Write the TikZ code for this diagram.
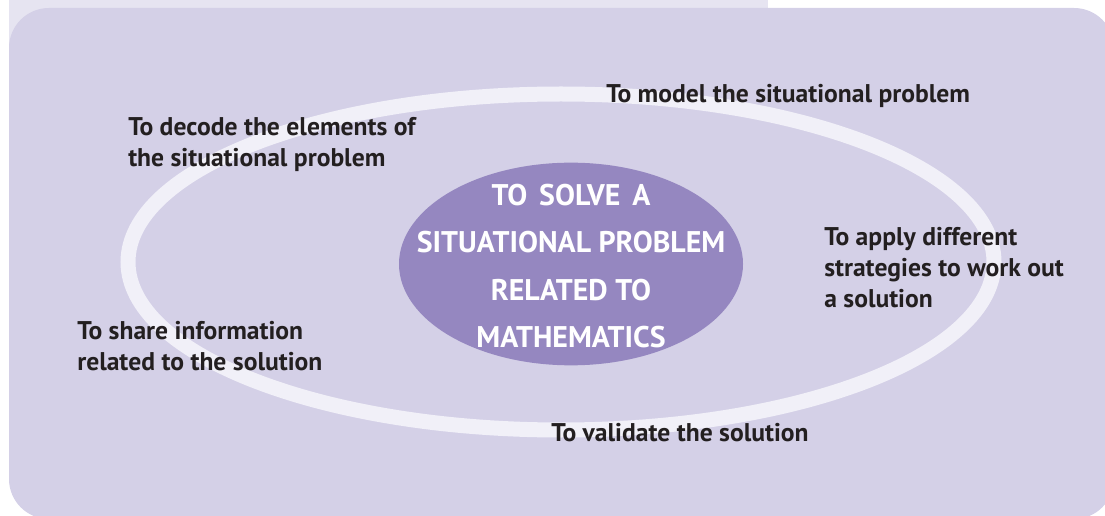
\documentclass[tikz,border=0pt]{standalone}
\usepackage{fontspec}
\setmainfont{PT Sans}
\usetikzlibrary{shapes.geometric, positioning}

\definecolor{panelbg}{HTML}{D4D0E7}
\definecolor{tabbg}{HTML}{E6E4F1}
\definecolor{ringline}{HTML}{F1F0F8}
\definecolor{goalfill}{HTML}{9587C0}
\definecolor{labeltext}{HTML}{231F20}

\newcommand{\widewords}{\spaceskip=0.4em\relax}

\begin{document}
\begin{tikzpicture}[
    x=0.75pt, y=-0.75pt,
    goal/.style={ellipse, fill=goalfill, minimum width=258pt, minimum height=152pt, inner sep=0pt},
    goaltext/.style={text=white, inner sep=0pt, align=center, font=\bfseries\fontsize{22.4}{35.5}\selectfont},
    stage/.style={anchor=base west, inner sep=0pt, align=left, text=labeltext,
        font=\bfseries\fontsize{19.2}{23.25}\selectfont}
]
    \useasboundingbox (0,0) rectangle (1105,516);

    % Background panel
    \fill[tabbg] (9,0) rectangle (768,60);
    \fill[panelbg, rounded corners=30pt] (9,8) rectangle (1114,519);

    % Cycle ring
    \draw[ringline, line width=11.25pt] (561,262) ellipse [x radius=433, y radius=168];

    % Central goal
    \node[goal] (goal) at (571,264) {};
    \node[goaltext] (goallabel) at (571,266) {\widewords TO SOLVE A\\SITUATIONAL PROBLEM\\RELATED TO\\MATHEMATICS};

    % Stages around the cycle (anchored on last line)
    \node[stage] (model) at (606,103) {To model the situational problem};
    \node[stage] (decode) at (128,167) {To decode the elements of\\the situational problem};
    \node[stage] (apply) at (824,307) {To apply different\\strategies to work out\\a solution};
    \node[stage] (share) at (77,370) {To share information\\related to the solution};
    \node[stage] (validate) at (551,441) {To validate the solution};
\end{tikzpicture}
\end{document}
